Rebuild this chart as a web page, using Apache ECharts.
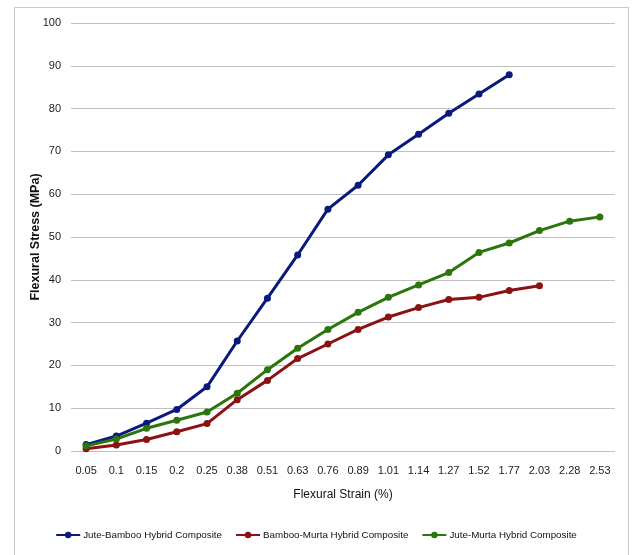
<!DOCTYPE html>
<html><head><meta charset="utf-8">
<script src="https://cdn.jsdelivr.net/npm/echarts@6/dist/echarts.min.js"></script>
<style>html,body{margin:0;padding:0;background:#fff}#c{width:632px;height:555px}</style>
</head><body><div id="c"></div>
<script>
var categories = ['0.05','0.1','0.15','0.2','0.25','0.38','0.51','0.63','0.76','0.89','1.01','1.14','1.27','1.52','1.77','2.03','2.28','2.53'];
var juteBamboo = [1.5,3.5,6.5,9.7,15,25.7,35.7,45.8,56.5,62.1,69.2,74,78.9,83.4,87.9];
var bambooMurta = [0.5,1.4,2.7,4.5,6.4,12,16.5,21.6,25,28.4,31.3,33.5,35.4,35.9,37.5,38.6];
var juteMurta = [1.2,2.8,5.3,7.2,9.1,13.5,19,24,28.4,32.4,35.9,38.8,41.7,46.4,48.6,51.5,53.7,54.7];
var seriesNames = ['Jute-Bamboo Hybrid Composite','Bamboo-Murta Hybrid Composite','Jute-Murta Hybrid Composite'];
var colors = ['#0a1a7c','#8a1212','#2a760c'];
var FONT = '"Liberation Sans Narrow", "Arial Narrow", "Liberation Sans", Arial, sans-serif';

var chart = echarts.init(document.getElementById('c'));
function mk(name, data, color){
  return {name:name, type:'line', data:data, color:color, symbol:'circle', symbolSize:7,
    lineStyle:{width:3, color:color}, itemStyle:{color:color}};
}
chart.setOption({
  animation:false,
  textStyle:{fontFamily:FONT},
  graphic:[{type:'rect', left:12, top:5, shape:{width:614, height:560}, style:{fill:'none', stroke:'#c8c8c8', lineWidth:1}, silent:true}],
  grid:{left:71, right:17, top:23, bottom:104},
  legend:{bottom:10, left:'center', itemWidth:24, itemHeight:8, itemGap:13,
    textStyle:{fontFamily:FONT, fontSize:9.8, color:'#111', padding:[0,0,0,-2]}, data:seriesNames},
  xAxis:{type:'category', data:categories, boundaryGap:true,
    name:'Flexural Strain (%)', nameLocation:'middle', nameGap:38,
    nameTextStyle:{fontFamily:FONT, fontSize:12, color:'#111'},
    axisLine:{show:false}, axisTick:{show:false},
    axisLabel:{fontFamily:FONT, fontSize:11, color:'#222', margin:14, interval:0}},
  yAxis:{type:'value', min:0, max:100, interval:10,
    name:'Flexural Stress (MPa)', nameLocation:'middle', nameGap:29, nameMoveOverlap:false,
    nameTextStyle:{fontFamily:'"Liberation Sans", Arial, sans-serif', fontSize:12.5, fontWeight:'bold', color:'#111'},
    axisLine:{show:false}, axisTick:{show:false},
    axisLabel:{fontFamily:FONT, fontSize:11, color:'#222', margin:10},
    splitLine:{lineStyle:{color:'#c0c0c0', width:1}}},
  series:[mk(seriesNames[0], juteBamboo, colors[0]), mk(seriesNames[1], bambooMurta, colors[1]), mk(seriesNames[2], juteMurta, colors[2])]
});
</script></body></html>
